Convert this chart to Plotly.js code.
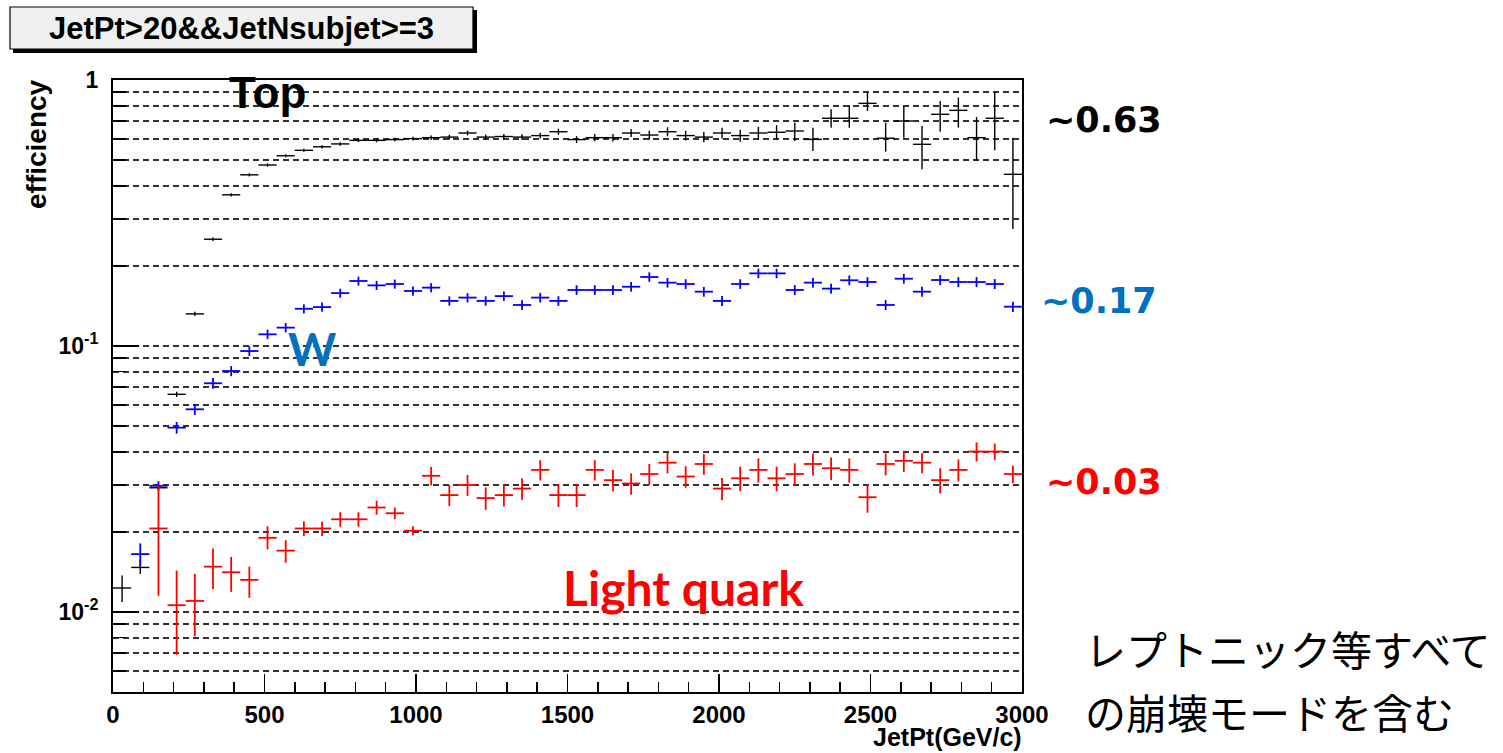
<!DOCTYPE html>
<html>
<head>
<meta charset="utf-8">
<script src="https://cdn.plot.ly/plotly-3.0.1.min.js"></script>
<style>html,body{margin:0;padding:0;background:#fff;}#chart{width:1503px;height:753px;}</style>
</head>
<body>
<div id="chart"></div>
<script>
// Bin centers (JetPt, GeV/c), 60 GeV bins
var binCenters = [30,90,150,210,270,330,390,450,510,570,630,690,750,810,870,930,990,1050,1110,1170,
  1230,1290,1350,1410,1470,1530,1590,1650,1710,1770,1830,1890,1950,2010,2070,2130,2190,2250,2310,2370,
  2430,2490,2550,2610,2670,2730,2790,2850,2910,2970];
var binHalfWidth = 30;

// Top efficiency
var topEff = [0.0123,0.0147,0.0293,0.0658,0.132,0.252,0.370,0.440,0.479,0.519,
  0.544,0.561,0.575,0.593,0.593,0.597,0.602,0.607,0.610,0.632,
  0.610,0.613,0.610,0.618,0.639,0.597,0.607,0.607,0.632,0.621,
  0.639,0.618,0.610,0.632,0.618,0.632,0.636,0.643,0.598,0.718,
  0.718,0.817,0.604,0.701,0.573,0.743,0.769,0.607,0.718,0.442];
var topErrUp = [0.0014,0.0010,0.0008,0.0015,0.0025,0.004,0.005,0.006,0.007,0.007,
  0.008,0.008,0.009,0.009,0.010,0.010,0.010,0.011,0.012,0.013,
  0.013,0.014,0.015,0.016,0.017,0.018,0.019,0.020,0.022,0.024,
  0.025,0.026,0.027,0.030,0.032,0.035,0.040,0.048,0.064,0.058,
  0.085,0.079,0.087,0.096,0.098,0.091,0.089,0.119,0.183,0.165];
var topErrDown = [0.0014,0.0008,0.0008,0.0015,0.0025,0.004,0.005,0.006,0.007,0.007,
  0.008,0.008,0.009,0.009,0.010,0.010,0.010,0.011,0.012,0.013,
  0.013,0.014,0.015,0.016,0.017,0.018,0.019,0.020,0.022,0.024,
  0.025,0.026,0.027,0.030,0.032,0.035,0.040,0.053,0.057,0.056,
  0.056,0.052,0.066,0.094,0.111,0.104,0.107,0.111,0.174,0.167];

// W efficiency
var wEff = [null,0.0165,0.0298,0.0493,0.0578,0.0724,0.0805,0.0957,0.1106,0.1172,
  0.138,0.140,0.158,0.1755,0.169,0.171,0.161,0.1657,0.1477,0.152,
  0.1477,0.154,0.1426,0.152,0.1477,0.1624,0.1624,0.1624,0.167,0.1817,
  0.173,0.171,0.160,0.1477,0.171,0.1875,0.1875,0.1624,0.173,0.1643,
  0.1766,0.174,0.1426,0.179,0.160,0.177,0.174,0.174,0.171,0.1405];
var wErr = [null,0.0016,0.0012,0.0025,0.0028,0.0033,0.0035,0.0040,0.0045,0.0048,
  0.0055,0.0056,0.0062,0.0068,0.0066,0.0067,0.0064,0.0066,0.0060,0.0062,
  0.0060,0.0063,0.0060,0.0063,0.0062,0.0068,0.0068,0.0068,0.0070,0.0075,
  0.0072,0.0072,0.0068,0.0064,0.0072,0.0078,0.0078,0.0070,0.0073,0.0070,
  0.0075,0.0074,0.0062,0.0076,0.0070,0.0076,0.0075,0.0075,0.0074,0.0062];

// Light quark efficiency
var lqEff = [null,null,0.0206,0.0106,0.0110,0.0148,0.0141,0.0132,0.0190,0.0170,
  0.0206,0.0206,0.0223,0.0223,0.0247,0.0235,0.0202,0.0325,0.0275,0.0300,
  0.0268,0.0275,0.0291,0.0342,0.0275,0.0275,0.0342,0.0313,0.0304,0.0330,
  0.0364,0.0323,0.0360,0.0291,0.0318,0.0342,0.0318,0.0330,0.0360,0.0347,
  0.0342,0.0270,0.0360,0.0370,0.0364,0.0313,0.0342,0.0401,0.0401,0.0330];
var lqErrUp = [null,null,0.0092,0.0037,0.0029,0.0025,0.0020,0.0016,0.0020,0.0016,
  0.0013,0.0013,0.0014,0.0014,0.0015,0.0012,0.0008,0.0026,0.0025,0.0027,
  0.0026,0.0026,0.0027,0.0030,0.0027,0.0027,0.0030,0.0029,0.0028,0.0030,
  0.0032,0.0030,0.0032,0.0028,0.0034,0.0036,0.0034,0.0032,0.0034,0.0034,
  0.0036,0.0032,0.0034,0.0034,0.0032,0.0034,0.0032,0.0033,0.0028,0.0025];
var lqErrDown = [null,null,0.0091,0.0037,0.0029,0.0026,0.0022,0.0019,0.0018,0.0017,
  0.0013,0.0013,0.0014,0.0014,0.0015,0.0012,0.0008,0.0026,0.0025,0.0027,
  0.0026,0.0026,0.0027,0.0030,0.0027,0.0027,0.0030,0.0029,0.0028,0.0030,
  0.0032,0.0030,0.0032,0.0028,0.0034,0.0036,0.0034,0.0032,0.0034,0.0034,
  0.0036,0.0034,0.0034,0.0034,0.0032,0.0034,0.0032,0.0033,0.0028,0.0025];

// Axis ticks
var yMajorVals = [0.01, 0.1, 1];
var yMajorText = ['10<sup>-2</sup>', '10<sup>-1</sup>', '1'];
var yMinorVals = [0.006,0.007,0.008,0.009,0.02,0.03,0.04,0.05,0.06,0.07,0.08,0.09,
  0.2,0.3,0.4,0.5,0.6,0.7,0.8,0.9];

// Plot-area pixel geometry helpers
var L = 113, T = 80, W = 909, H = 612;
function px(x){ return (x - L) / W; }
function py(y){ return (T + H - y) / H; }

function series(y, up, down, color, thick){
  return {
    x: binCenters, y: y, type: 'scatter', mode: 'markers',
    marker: {size: 1, color: color},
    error_x: {type: 'constant', value: binHalfWidth, color: color, thickness: thick, width: 0},
    error_y: {type: 'data', symmetric: false, array: up, arrayminus: down, color: color, thickness: thick, width: 0},
    hoverinfo: 'x+y', showlegend: false, cliponaxis: true
  };
}

var data = [
  series(topEff, topErrUp, topErrDown, '#000000', 1.4),
  series(wEff, wErr, wErr, '#0000ff', 1.8),
  series(lqEff, lqErrUp, lqErrDown, '#ff0000', 1.8)
];

var gridDash = '6px,4px';
var layout = {
  width: 1503, height: 753,
  margin: {l: L, r: 1503 - L - W, t: T, b: 753 - T - H, pad: 0},
  paper_bgcolor: '#ffffff', plot_bgcolor: '#ffffff',
  font: {family: 'Liberation Sans, Arial, sans-serif', color: '#000'},
  xaxis: {
    range: [0, 3000], tick0: 0, dtick: 500,
    showline: true, linecolor: '#000', linewidth: 2, mirror: true,
    ticks: 'inside', ticklen: 18, tickwidth: 1.5, tickcolor: '#000',
    showgrid: false, zeroline: false,
    tickfont: {size: 24, weight: 'bold', family: 'Liberation Sans, Arial, sans-serif'},
    minor: {dtick: 100, ticks: 'inside', ticklen: 10, tickwidth: 1.5, tickcolor: '#000', showgrid: false}
  },
  yaxis: {
    type: 'log', range: [-2.30103, 0],
    tickmode: 'array', tickvals: yMajorVals, ticktext: yMajorText,
    showline: true, linecolor: '#000', linewidth: 2, mirror: true,
    ticks: 'inside', ticklen: 26, tickwidth: 1.5, tickcolor: '#000',
    ticklabelstandoff: 8,
    showgrid: true, gridcolor: '#333333', gridwidth: 1.6, griddash: gridDash,
    zeroline: false,
    tickfont: {size: 23, weight: 'bold', family: 'Liberation Sans, Arial, sans-serif'},
    minor: {tickmode: 'array', tickvals: yMinorVals, ticks: 'inside', ticklen: 13, tickwidth: 1.5,
      tickcolor: '#000', showgrid: true, gridcolor: '#333333', gridwidth: 1.6, griddash: gridDash}
  },
  shapes: [
    {type: 'rect', xref: 'paper', yref: 'paper', x0: px(13), x1: px(477), y0: py(53), y1: py(10),
      fillcolor: '#000', line: {width: 0}, layer: 'above'},
    {type: 'rect', xref: 'paper', yref: 'paper', x0: px(10), x1: px(473), y0: py(49), y1: py(7),
      fillcolor: '#f0f0f0', line: {color: '#000', width: 1.2}, layer: 'above'}
  ],
  annotations: [
    {xref: 'paper', yref: 'paper', x: px(241), y: py(28), xanchor: 'center', yanchor: 'middle', showarrow: false,
      text: 'JetPt&gt;20&amp;&amp;JetNsubjet&gt;=3', font: {size: 31, weight: 'bold', family: 'Liberation Sans, Arial, sans-serif', color: '#000'}},
    {xref: 'paper', yref: 'paper', x: px(37), y: py(144), xanchor: 'center', yanchor: 'middle', showarrow: false,
      textangle: -90, text: 'efficiency', font: {size: 28, weight: 'bold', family: 'Liberation Sans, Arial, sans-serif', color: '#000'}},
    {xref: 'paper', yref: 'paper', x: px(1023), y: py(752), xanchor: 'right', yanchor: 'bottom', showarrow: false,
      borderpad: 0, text: 'JetPt(GeV/c)', font: {size: 25, weight: 'bold', family: 'Liberation Sans, Arial, sans-serif', color: '#000'}},
    {xref: 'paper', yref: 'paper', x: px(267), y: py(92), xanchor: 'center', yanchor: 'middle', showarrow: false,
      text: 'Top', font: {size: 44, weight: 'bold', family: 'Liberation Sans, Arial, sans-serif', color: '#000'}},
    {xref: 'paper', yref: 'paper', x: px(312), y: py(348), xanchor: 'center', yanchor: 'middle', showarrow: false,
      text: 'W', font: {size: 46, weight: 'bold', family: 'Lato, sans-serif', color: '#0070c0'}},
    {xref: 'paper', yref: 'paper', x: px(683), y: py(587), xanchor: 'center', yanchor: 'middle', showarrow: false,
      text: 'Light quark', font: {size: 48, weight: 'bold', family: 'Lato, sans-serif', color: '#ff0000'}},
    {xref: 'paper', yref: 'paper', x: px(1044), y: py(120), xanchor: 'left', yanchor: 'middle', showarrow: false,
      text: '~0.63', font: {size: 35, weight: 'bold', family: 'DejaVu Sans, sans-serif', color: '#000000'}},
    {xref: 'paper', yref: 'paper', x: px(1039), y: py(301), xanchor: 'left', yanchor: 'middle', showarrow: false,
      text: '~0.17', font: {size: 35, weight: 'bold', family: 'DejaVu Sans, sans-serif', color: '#0070c0'}},
    {xref: 'paper', yref: 'paper', x: px(1044), y: py(482), xanchor: 'left', yanchor: 'middle', showarrow: false,
      text: '~0.03', font: {size: 35, weight: 'bold', family: 'DejaVu Sans, sans-serif', color: '#ff0000'}},
    {xref: 'paper', yref: 'paper', x: px(1083), y: py(648), xanchor: 'left', yanchor: 'middle', showarrow: false,
      text: 'レプトニック等すべて', font: {size: 41, family: 'Noto Sans CJK JP, sans-serif', color: '#000'}},
    {xref: 'paper', yref: 'paper', x: px(1083), y: py(711), xanchor: 'left', yanchor: 'middle', showarrow: false,
      text: 'の崩壊モードを含む', font: {size: 41, family: 'Noto Sans CJK JP, sans-serif', color: '#000'}}
  ]
};

Plotly.newPlot('chart', data, layout, {staticPlot: true, displayModeBar: false});
</script>
</body>
</html>
